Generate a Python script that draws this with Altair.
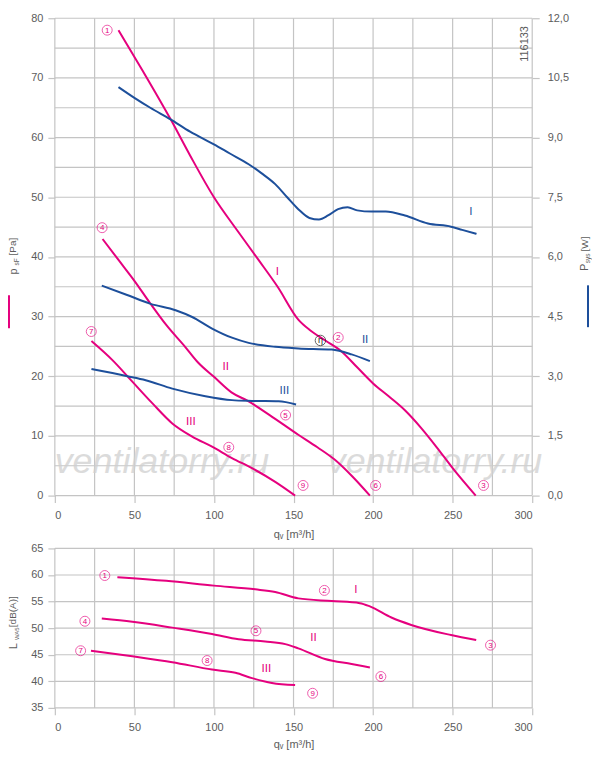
import altair as alt
import pandas as pd

MAGENTA = "#e5007e"
BLUE = "#1d4f9b"
GRID = "#c4c4c4"
INK = "#5c5c5c"
FONT = "Liberation Sans"

# static pressure p_sF [Pa] over flow q_v [m3/h], speed steps I, II, III
p1_q = [40, 55, 72.7, 85, 100, 115, 128, 140, 153, 160, 170, 180, 190, 200, 210, 220, 230, 240, 250, 264.5]
p1_v = [78, 71.3, 63.1, 57, 50, 44.3, 39.5, 35, 29.5, 27.8, 26, 24.2, 21.5, 18.8, 16.6, 14.3, 11.4, 8.1, 4.6, 0]
p2_q = [30, 40, 50, 60, 70, 82, 90, 100, 111, 121, 135, 153, 165, 176, 187, 198]
p2_v = [43, 39.5, 36, 32.2, 28.6, 24.9, 22.3, 19.9, 17.3, 15.9, 13.5, 10.2, 8.1, 6.0, 3.2, 0]
p3_q = [23, 36.2, 48.7, 61.2, 73.8, 86.3, 98.8, 111.3, 123.9, 138.5, 151]
p3_v = [25.9, 22.7, 19.1, 15.5, 12.1, 9.9, 8.2, 6.3, 4.6, 2.3, 0]

# power input P_sys [W]
w1_q = [40, 50, 60, 72.7, 85, 100, 110, 121.8, 130, 138.5, 146, 153, 160, 166, 172, 178, 184, 190, 199, 208, 220, 234.5, 249, 256, 265]
w1_v = [10.27, 10.0, 9.75, 9.46, 9.15, 8.83, 8.6, 8.33, 8.1, 7.83, 7.5, 7.2, 6.98, 6.94, 7.05, 7.2, 7.25, 7.17, 7.14, 7.14, 7.04, 6.84, 6.76, 6.68, 6.58]
w2_q = [29.5, 45, 60.2, 75.9, 86.3, 98.8, 111.3, 121.8, 138.5, 153, 174, 186.5, 198]
w2_v = [5.28, 5.05, 4.82, 4.66, 4.49, 4.2, 3.97, 3.84, 3.74, 3.70, 3.67, 3.55, 3.38]
w3_q = [23, 45.6, 57.1, 73.8, 94.6, 111.3, 123.9, 140.6, 151.6]
w3_v = [3.18, 3.0, 2.9, 2.69, 2.5, 2.4, 2.38, 2.37, 2.29]

# sound power L_WA5 [dB(A)]
l1_q = [39.3, 70, 99.9, 126, 138.5, 153, 174, 191.7, 198, 211.5, 224, 249, 264.8]
l1_v = [59.6, 58.9, 58.0, 57.3, 56.8, 55.6, 55.1, 54.7, 54.1, 52.0, 50.6, 48.7, 47.75]
l2_q = [29.5, 48.7, 73.8, 98.8, 115.5, 132.2, 144.8, 153, 169.8, 186.5, 198]
l2_v = [51.8, 51.2, 50.1, 48.9, 47.9, 47.5, 47.0, 46.2, 44.2, 43.25, 42.6]
l3_q = [22.7, 48.7, 73.8, 98.8, 113.5, 123.9, 136.4, 151]
l3_v = [45.75, 44.7, 43.6, 42.2, 41.6, 40.6, 39.7, 39.3]

# operating point markers (circled numbers) and step labels
top_num_t = ["1", "2", "3", "4", "5", "6", "7", "8", "9"]
top_num_q = [32.9, 178.1, 269.4, 29.7, 145, 201.6, 22.9, 109.3, 156]
top_num_v = [78.0, 26.5, 1.7, 44.9, 13.5, 1.7, 27.5, 8.1, 1.7]
top_step_t = ["I", "II", "III", "I", "II", "III"]
top_step_q = [139.9, 107.4, 85.5, 261.4, 195, 144.3]
top_step_v = [37.4, 21.5, 12.3, 47.6, 26.0, 17.5]
top_step_c = [MAGENTA, MAGENTA, MAGENTA, BLUE, BLUE, BLUE]
bot_num_q = [31.4, 169.4, 273.8, 18.9, 126.4, 204.9, 16.2, 95.7, 162]
bot_num_v = [59.9, 57.1, 46.8, 51.3, 49.5, 40.9, 45.75, 43.9, 37.75]
bot_step_t = ["I", "II", "III"]
bot_step_q = [189.2, 162.5, 132.9]
bot_step_v = [57.1, 48.1, 42.4]

x_ticks = [0, 50, 100, 150, 200, 250, 300]
x_grid = [0, 25, 50, 75, 100, 125, 150, 175, 200, 225, 250, 275, 300]
p_ticks = [0, 10, 20, 30, 40, 50, 60, 70, 80]
p_grid = list(range(0, 85, 5))
w_ticks = [0, 1.5, 3, 4.5, 6, 7.5, 9, 10.5, 12]
l_ticks = [35, 40, 45, 50, 55, 60, 65]

xs = alt.Scale(domain=[0, 300], nice=False)
ps = alt.Scale(domain=[0, 80], nice=False)
ws = alt.Scale(domain=[0, 12], nice=False)
ls = alt.Scale(domain=[35, 65], nice=False)

x_axis = alt.Axis(values=x_ticks, title="qᵥ [m³/h]", tickSize=7, labelPadding=7, titlePadding=8,
                  grid=False, domain=False)
xb_axis = alt.Axis(values=x_ticks, title="qᵥ [m³/h]", tickSize=7, labelPadding=7, titlePadding=6,
                   grid=False, domain=False)
p_axis = alt.Axis(values=p_ticks, title=None, tickSize=7, labelPadding=5, grid=False, domain=False)
l_axis = alt.Axis(values=l_ticks, title=None, tickSize=7, labelPadding=5, grid=False, domain=False)
w_axis = alt.Axis(orient="right", values=w_ticks, title=None, tickSize=7, labelPadding=8, grid=False,
                  domain=False, labelExpr="replace(format(datum.value, '.1f'), '.', ',')")


def curves(pairs):
    parts = [pd.DataFrame({"q": q, "v": v, "curve": name}) for name, (q, v) in pairs.items()]
    return pd.concat(parts, ignore_index=True)


def note(text, x, y, size=11, align="center"):
    # rotated axis-title pieces; align keeps the layout bounds on the plot side
    src = alt.Chart(pd.DataFrame({"t": [text]}))
    return src.mark_text(fontSize=size, color=INK, angle=270, font=FONT,
                         align=align, baseline="middle").encode(
        x=alt.value(x), y=alt.value(y), text="t:N")


def bar(color, x, y, y2):
    return alt.Chart(pd.DataFrame({"a": [0]})).mark_rule(color=color, strokeWidth=2).encode(
        x=alt.value(x), y=alt.value(y), y2=alt.value(y2))


def xy(ys, yaxis, xaxis=x_axis):
    return dict(x=alt.X("q:Q", scale=xs, axis=xaxis), y=alt.Y("v:Q", scale=ys, axis=yaxis))


def ring_labels(q, v, t, enc, color=MAGENTA):
    base = alt.Chart(pd.DataFrame({"q": q, "v": v, "t": t})).encode(**enc)
    ring = base.mark_point(shape="circle", filled=False, size=100, strokeWidth=0.9, color=color)
    num = base.mark_text(fontSize=8, color=color, font=FONT, baseline="middle", dy=0.5).encode(text="t:N")
    return ring + num


# ---------------- top panel ----------------
top_enc = xy(ps, p_axis)
vgrid = alt.Chart(pd.DataFrame({"q": x_grid})).mark_rule(color=GRID, strokeWidth=1.2).encode(
    x=alt.X("q:Q", scale=xs, axis=x_axis))
hgrid = alt.Chart(pd.DataFrame({"v": p_grid})).mark_rule(color=GRID, strokeWidth=1.2).encode(
    y=alt.Y("v:Q", scale=ps, axis=p_axis))

mark_df = pd.DataFrame({"q": [67.3, 238.9], "v": [5.6, 5.6], "t": ["ventilatorry.ru"] * 2})
watermark = alt.Chart(mark_df).mark_text(fontSize=36, fontStyle="italic", font=FONT, color="#d0d0d0",
                                         opacity=0.75, baseline="middle").encode(**top_enc, text="t:N")

pressure = alt.Chart(curves({"1": (p1_q, p1_v), "2": (p2_q, p2_v), "3": (p3_q, p3_v)})).mark_line(
    color=MAGENTA, strokeWidth=2, interpolate="monotone").encode(**top_enc, detail="curve:N")

step_df = pd.DataFrame({"q": top_step_q, "v": top_step_v, "t": top_step_t, "c": top_step_c})
steps = alt.Chart(step_df).mark_text(fontSize=11, font="DejaVu Sans", baseline="middle").encode(
    **top_enc, text="t:N", color=alt.Color("c:N", scale=None))

eta_base = alt.Chart(pd.DataFrame({"q": [166.9], "v": [26.0], "t": ["η"]})).encode(**top_enc)
eta = eta_base.mark_point(shape="circle", filled=False, size=110, strokeWidth=1, color="#222") + \
    eta_base.mark_text(fontSize=9, color="#222", baseline="middle").encode(text="t:N")

code = alt.Chart(pd.DataFrame({"q": [295.2], "v": [75.7], "t": ["116133"]})).mark_text(
    fontSize=11, font=FONT, color=INK, angle=270, baseline="middle").encode(**top_enc, text="t:N")

titles = (
    note("p", -41, 254) + note("sF", -38, 248, 6.5, "left") + note("[Pa]", -42, 238, 10, "left")
    + bar(MAGENTA, -46, 278, 311)
    + note("P", 532, 250) + note("sys", 535, 236, 6.5, "right") + note("[W]", 532, 219, 10, "right")
    + bar(BLUE, 535, 268, 310)
)

left_layer = alt.layer(
    vgrid, hgrid, watermark, pressure, steps, eta, code,
    ring_labels(top_num_q, top_num_v, top_num_t, top_enc),
    titles,
)

power = alt.Chart(curves({"1": (w1_q, w1_v), "2": (w2_q, w2_v), "3": (w3_q, w3_v)})).mark_line(
    color=BLUE, strokeWidth=2, interpolate="monotone").encode(**xy(ws, w_axis), detail="curve:N")

top = alt.layer(left_layer, power).resolve_scale(y="independent").properties(width=479, height=479)

# ---------------- bottom panel ----------------
bot_enc = xy(ls, l_axis, xb_axis)
vgrid_b = alt.Chart(pd.DataFrame({"q": x_grid})).mark_rule(color=GRID, strokeWidth=1.2).encode(
    x=alt.X("q:Q", scale=xs, axis=xb_axis))
hgrid_b = alt.Chart(pd.DataFrame({"v": l_ticks})).mark_rule(color=GRID, strokeWidth=1.2).encode(
    y=alt.Y("v:Q", scale=ls, axis=l_axis))
sound = alt.Chart(curves({"1": (l1_q, l1_v), "2": (l2_q, l2_v), "3": (l3_q, l3_v)})).mark_line(
    color=MAGENTA, strokeWidth=2, interpolate="monotone").encode(**bot_enc, detail="curve:N")
steps_b = alt.Chart(pd.DataFrame({"q": bot_step_q, "v": bot_step_v, "t": bot_step_t})).mark_text(
    fontSize=11, font="DejaVu Sans", color=MAGENTA, baseline="middle").encode(**bot_enc, text="t:N")

bottom = alt.layer(
    vgrid_b, hgrid_b, sound, steps_b,
    ring_labels(bot_num_q, bot_num_v, top_num_t, bot_enc),
    note("L", -41, 98) + note("WA5", -38, 92, 6, "left") + note("[dB(A)]", -42, 79, 10, "left"),
).properties(width=479, height=160)

chart = alt.vconcat(top, bottom, spacing=3).properties(
    padding={"left": 0, "top": 3, "right": 0, "bottom": 0}
).configure_view(stroke=None).configure_axis(
    labelFont=FONT, labelFontSize=11, labelColor=INK, tickColor=GRID, tickWidth=1.2,
    titleFont=FONT, titleFontSize=11, titleColor=INK, titleFontWeight="normal",
)

chart.save("out.html", embed_options={"renderer": "svg", "actions": False})
